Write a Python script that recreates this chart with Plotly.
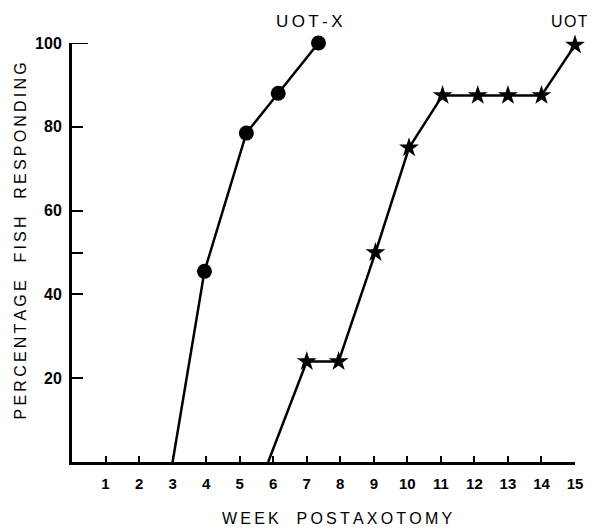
import plotly.graph_objects as go

# Data
uotx_week = [3.0, 3.95, 5.2, 6.15, 7.35]
uotx_pct = [0, 45.5, 78.5, 88, 100]

uot_week = [5.85, 7.0, 7.95, 9.05, 10.05, 11.05, 12.1, 13.0, 14.0, 15.0]
uot_pct = [0, 24, 24, 50, 75, 87.5, 87.5, 87.5, 87.5, 99.5]

x_ticks = list(range(1, 16))
y_ticks = [20, 40, 50, 60, 80, 100]
y_ticktext = ["20", "40", "", "60", "80", "100"]

FONT = "Liberation Sans"

fig = go.Figure()

fig.add_trace(go.Scatter(
    x=uotx_week, y=uotx_pct, mode="lines+markers",
    line=dict(color="black", width=2.5),
    marker=dict(symbol="circle", size=[0] + [15] * (len(uotx_week) - 1), color="black",
                opacity=1, line=dict(width=0)),
    cliponaxis=False, showlegend=False, name="UOT-X"))

fig.add_trace(go.Scatter(
    x=uot_week, y=uot_pct, mode="lines+markers",
    line=dict(color="black", width=2.5),
    marker=dict(symbol="star", size=[0] + [15] * (len(uot_week) - 1), color="black",
                opacity=1, line=dict(width=0)),
    cliponaxis=False, showlegend=False, name="UOT"))

def spaced(s, gap="\u2009", wordgap="\u00a0\u00a0\u00a0"):
    return wordgap.join(gap.join(list(w)) for w in s.split(" "))

title_font = dict(family=FONT, size=16, color="black")
common = dict(xref="paper", yref="paper", showarrow=False, xanchor="center", yanchor="middle")
annotations = [
    dict(text=spaced("UOT-X", "\u2009"), x=0.473, y=1.0525, font=dict(family=FONT, size=17, color="black"), **common),
    dict(text=spaced("UOT", "\u200a"), x=0.99, y=1.0525, font=dict(family=FONT, size=16, color="black"), **common),
    dict(text=spaced("PERCENTAGE FISH RESPONDING", "\u2009", "\u00a0\u00a0\u00a0\u00a0"),
         x=-0.103, y=0.527, textangle=-90, font=title_font, **common),
    dict(text=spaced("WEEK POSTAXOTOMY", "\u2009", "\u00a0\u00a0\u00a0\u00a0"),
         x=0.527, y=-0.136, font=title_font, **common),
]

# page body has an 8px default margin, so the figure is offset by 8px
fig.update_layout(
    width=587, height=524,
    margin=dict(l=64, r=20, t=35, b=70),
    paper_bgcolor="white", plot_bgcolor="white",
    annotations=annotations,
    shapes=[dict(type="line", xref="x", yref="y", xsizemode="pixel", xanchor=0,
                 x0=0, x1=16, y0=100, y1=100, line=dict(color="black", width=2))],
    xaxis=dict(range=[0, 15], showgrid=False, zeroline=False, showline=True,
               linecolor="black", linewidth=3, ticks="inside", ticklen=6,
               tickwidth=1.5, tickcolor="black", tickvals=x_ticks,
               ticktext=[str(v) for v in x_ticks], ticklabelstandoff=6,
               tickfont=dict(family=FONT, size=15, color="black", weight="bold")),
    yaxis=dict(range=[0, 100], showgrid=False, zeroline=False, showline=True,
               linecolor="black", linewidth=3, ticks="inside", ticklen=11,
               tickwidth=1.5, tickcolor="black", tickvals=y_ticks,
               ticktext=y_ticktext, ticklabelstandoff=4,
               tickfont=dict(family=FONT, size=16, color="black", weight="bold")),
)

fig.write_html("out.html")
